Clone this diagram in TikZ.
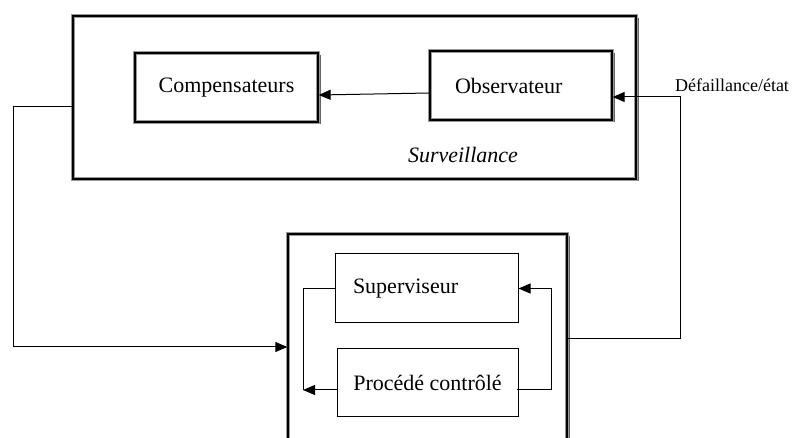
\documentclass[tikz,border=0pt]{standalone}
\usepackage{fontspec}
\setmainfont{Liberation Serif}
\usetikzlibrary{arrows.meta,shadows}
\tikzset{
  cadre/.style={draw=black!40,line width=1.3pt,double=black,double distance=1.2pt,fill=white,
    drop shadow={shadow xshift=2.5pt,shadow yshift=-2.5pt,opacity=1,fill=black!60}},
  boite/.style={draw,line width=1pt,fill=white},
  lien/.style={line width=1pt},
  fleche/.style={line width=1pt,-{Triangle[length=12pt,width=10pt]}}
}
\begin{document}
\begin{tikzpicture}[x=1pt,y=-1pt]
\useasboundingbox (0,0) rectangle (793,438);
\clip (0,0) rectangle (793,438);
\fontsize{22}{26}\selectfont

\node[cadre,minimum width=563pt,minimum height=163pt] (surv) at (354.5,97.5) {};
\node[cadre,minimum width=279pt,minimum height=240pt] (bloc) at (427.5,354) {};

\node[cadre,minimum width=183pt,minimum height=69pt] (comp) at (226.5,87.5) {Compensateurs};
\node[cadre,text width=132pt,inner xsep=25pt,align=left,minimum height=69pt] (obs) at (521,85.5) {Observateur};
\node[boite,text width=147pt,inner xsep=18pt,align=left,minimum height=69pt] (sup) at (426.5,288.5) {Superviseur};
\node[boite,minimum width=181pt,minimum height=68pt] (proc) at (427.5,383) {Procédé contrôlé};

\node (titre) at (463,155) {\itshape Surveillance};
\node (etat) at (732,85) {\fontsize{18}{22}\selectfont Défaillance/état};

\coordinate (g1) at (13,107);
\coordinate (g2) at (13,347);
\coordinate (d1) at (680,339);
\coordinate (d2) at (680,97);
\coordinate (b) at (303,390);
\coordinate (c) at (551,390);

\draw[fleche] ([yshift=-7.5pt]obs.west) -- ([yshift=-7.5pt]comp.east);
\draw[fleche] (surv.west |- g1) -- (g1) -- (g2) -- (bloc.west |- g2);
\draw[fleche] (bloc.east |- d1) -- (d1) -- (d2) -- (obs.east |- d2);

\draw[lien] (sup.west) -| (b);
\draw[fleche] (proc.west |- b) -- (b);
\draw[fleche] ([xshift=-2pt]proc.east |- c) -- (c) |- (sup.east);
\end{tikzpicture}
\end{document}
